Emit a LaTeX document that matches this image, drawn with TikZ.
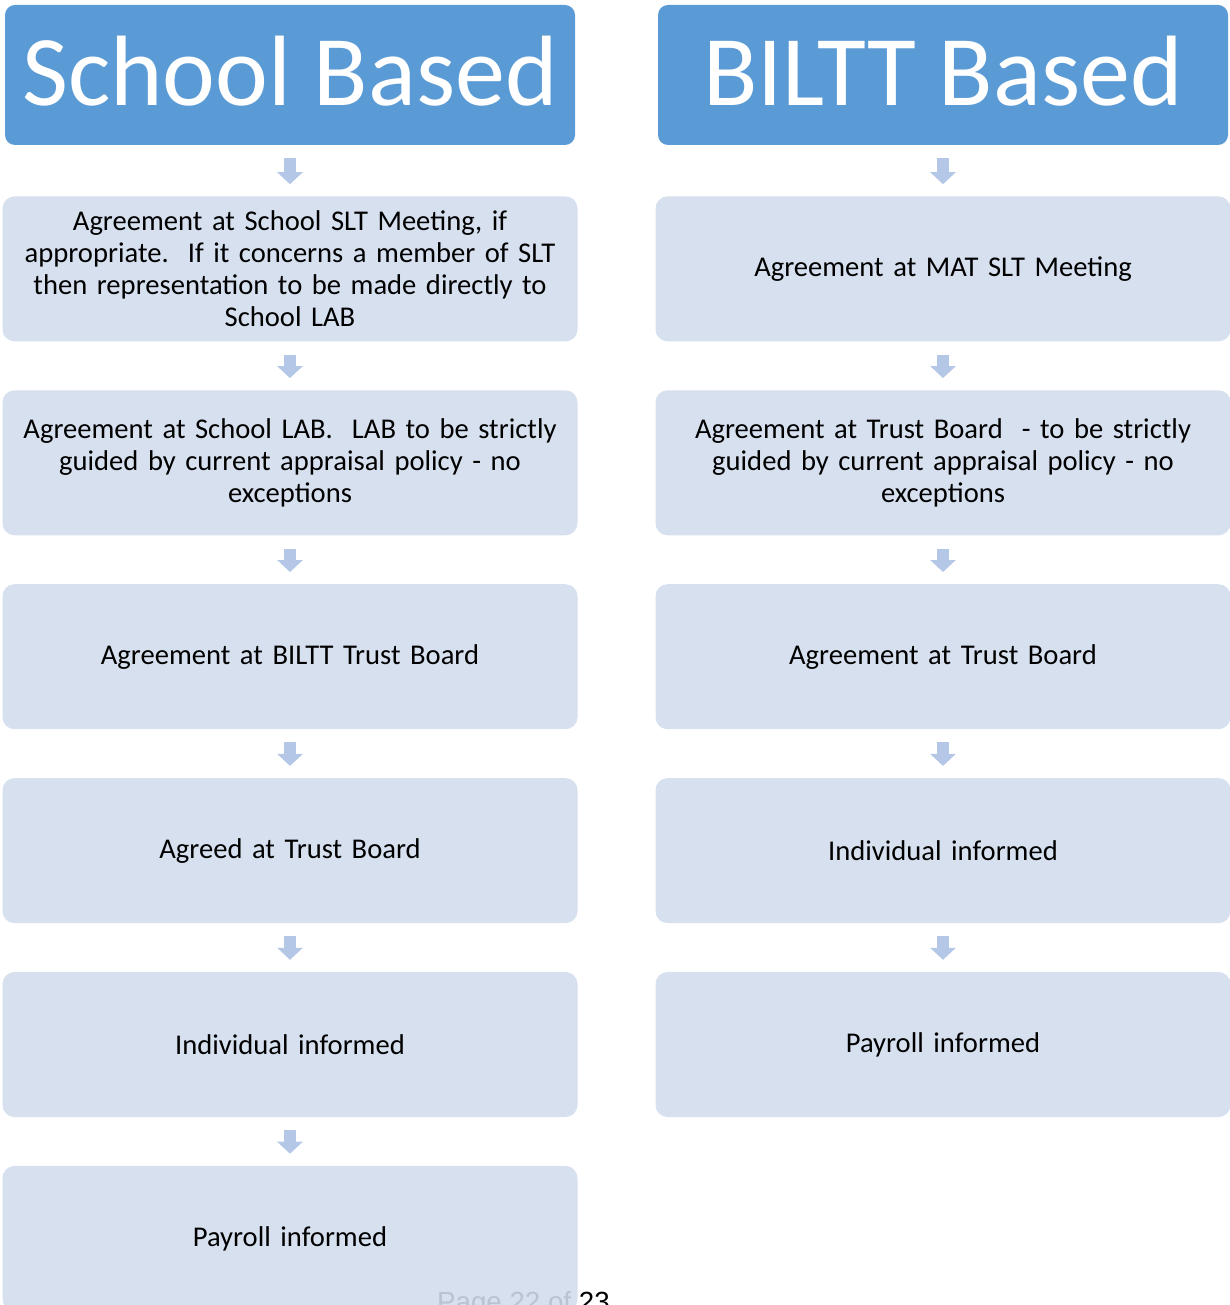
\documentclass[tikz,border=0pt]{standalone}
\usepackage{fontspec}
\setmainfont{Carlito}
\newfontfamily\footfont{Liberation Sans}
\usetikzlibrary{arrows.meta,positioning}
\definecolor{headblue}{HTML}{5B9BD5}
\definecolor{stepfill}{HTML}{D6E0EF}
\definecolor{arrowblue}{HTML}{B4C7E7}
\definecolor{footgrey}{HTML}{B9C3D2}
\tikzset{
    head/.style    = {fill=headblue, rounded corners=10pt, inner sep=0pt,
                      minimum width=570pt, minimum height=140pt,
                      text depth=8pt,
                      text=white, font=\fontsize{100}{110}\selectfont},
    stepbox/.style = {fill=stepfill, rounded corners=12pt,
                      minimum width=575pt, minimum height=145pt,
                      text width=555pt, align=center,
                      font=\fontsize{28.6}{32}\selectfont},
    flow/.style    = {draw=arrowblue, line width=12pt,
                      -{Triangle[length=12pt,width=25pt]},
                      shorten <=13pt, shorten >=12pt}
}

\begin{document}
\begin{tikzpicture}[x=1pt, y=-1pt]
\useasboundingbox (0,0) rectangle (1229,1305);

% ---------- school based route ----------
\node[head] (lhead) at (290,75) {School Based};
\node[stepbox, below=51pt of lhead] (l1)
    {Agreement at School SLT Meeting, if\\ appropriate.\ \ If it concerns a member of SLT\\
     then representation to be made directly to\\ School LAB};
\node[stepbox, below=48.5pt of l1] (l2)
    {Agreement at School LAB.\ \ LAB to be strictly\\ guided by current appraisal policy - no\\ exceptions};
\node[stepbox, below=48.5pt of l2] (l3) {Agreement at BILTT Trust Board};
\node[stepbox, below=48.5pt of l3] (l4) {Agreed at Trust Board};
\node[stepbox, below=48.5pt of l4] (l5) {Individual informed};
\node[stepbox, below=48.5pt of l5] (l6) {Payroll informed};

\draw[flow] (lhead) -- (l1);
\foreach \a/\b in {l1/l2, l2/l3, l3/l4, l4/l5, l5/l6}
    \draw[flow] (\a) -- (\b);

% ---------- BILTT based route ----------
\node[head] (rhead) at (943,75) {BILTT Based};
\node[stepbox, below=51pt of rhead] (r1) {Agreement at MAT SLT Meeting};
\node[stepbox, below=48.5pt of r1] (r2)
    {Agreement at Trust Board\ \ - to be strictly\\ guided by current appraisal policy - no\\ exceptions};
\node[stepbox, below=48.5pt of r2] (r3) {Agreement at Trust Board};
\node[stepbox, below=48.5pt of r3] (r4) {Individual informed};
\node[stepbox, below=48.5pt of r4] (r5) {Payroll informed};

\draw[flow] (rhead) -- (r1);
\foreach \a/\b in {r1/r2, r2/r3, r3/r4, r4/r5}
    \draw[flow] (\a) -- (\b);

% ---------- page footer ----------
\node[anchor=base west, inner sep=0pt, font=\footfont\fontsize{27.7}{32}\selectfont]
    (foot) at (437,1311) {\textcolor{footgrey}{Page 22 of} 23};

\end{tikzpicture}
\end{document}
